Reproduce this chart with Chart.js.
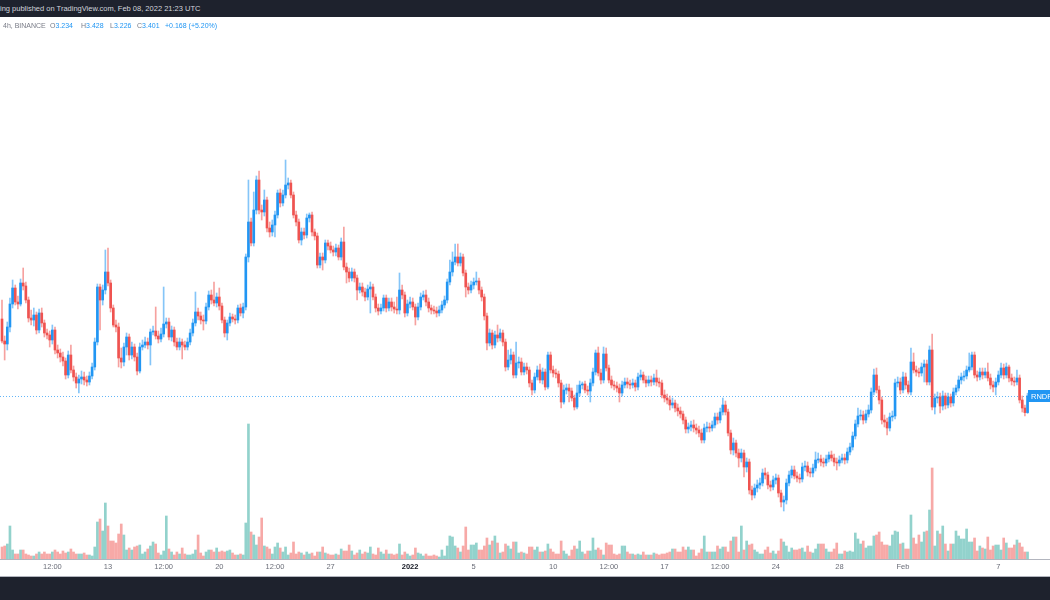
<!DOCTYPE html>
<html>
<head>
<meta charset="utf-8">
<title>RNDR 4h</title>
<script src="https://cdn.jsdelivr.net/npm/chart.js@4.4.0/dist/chart.umd.min.js"></script>
<style>
  html, body { margin: 0; padding: 0; background: #fff; }
  body { width: 1050px; height: 600px; position: relative; overflow: hidden; font-family: "Liberation Sans", Arial, sans-serif; }
  #wrap { position: absolute; left: 0; top: 0; width: 1050px; height: 576px; }
  #top { position: absolute; left: 0; top: 0; width: 1050px; height: 17px; background: #1e222d; color: #d1d4dc; font-size: 7.5px; line-height: 18px; white-space: nowrap; }
  .lg { position: absolute; top: 21px; font-size: 7px; line-height: 10px; color: #787b86; white-space: nowrap; }
  .lg b { font-weight: normal; color: #2196f3; }
  #axisline { position: absolute; left: 0; top: 576px; width: 1050px; height: 1px; background: #b2b5be; }
  #bottom { position: absolute; left: 0; top: 577px; width: 1050px; height: 23px; background: #1e222d; }
</style>
</head>
<body>
<div id="wrap"><canvas id="chart" width="1050" height="576"></canvas></div>
<div id="top">ing published on TradingView.com, Feb 08, 2022 21:23 UTC</div>
<div class="lg" style="left:3px">4h, BINANCE</div>
<div class="lg" style="left:50px">O<b>3.234</b></div>
<div class="lg" style="left:81px">H<b>3.428</b></div>
<div class="lg" style="left:110px">L<b>3.226</b></div>
<div class="lg" style="left:137px">C<b>3.401</b></div>
<div class="lg" style="left:165px"><b>+0.168 (+5.20%)</b></div>
<div id="axisline"></div>
<div id="bottom"></div>
<script>
// RNDR/USDT, 4h candles from Dec 6 08:00 to Feb 8 20:00 (one line per day)
const FIRST_OPEN = 4.17;

const closes = [
  3.95, 3.92, 4.09, 4.32,                 // Dec 6
  4.48, 4.34, 4.32, 4.53, 4.50, 4.36,     // Dec 7
  4.18, 4.16, 4.21, 4.06, 4.23, 4.13,
  4.03, 4.01, 3.96, 4.06, 3.86, 3.83,
  3.79, 3.75, 3.61, 3.81, 3.66, 3.59,
  3.53, 3.57, 3.59, 3.56, 3.54, 3.60,
  3.69, 3.94, 4.49, 4.36, 4.46, 4.64,     // Dec 12
  4.53, 4.28, 4.11, 4.09, 3.78, 3.74,
  3.89, 3.99, 3.81, 3.89, 3.79, 3.65,
  3.89, 3.91, 3.94, 3.91, 4.04, 4.05,
  4.00, 3.97, 4.02, 4.12, 4.14, 3.99,
  4.06, 3.94, 3.89, 3.94, 3.91, 3.89,
  3.94, 4.03, 4.13, 4.24, 4.20, 4.16,
  4.15, 4.29, 4.41, 4.36, 4.33, 4.39,
  4.30, 4.16, 4.03, 4.13, 4.19, 4.17,     // Dec 20
  4.16, 4.28, 4.23, 4.29, 4.79, 5.14,
  4.93, 5.26, 5.56, 5.26, 5.24, 5.36,
  5.08, 5.04, 5.11, 5.21, 5.43, 5.33,
  5.41, 5.51, 5.53, 5.41, 5.21, 5.14,
  4.96, 5.04, 5.01, 5.18, 5.21, 5.04,
  5.00, 4.71, 4.79, 4.76, 4.93, 4.90,
  4.86, 4.84, 4.88, 4.79, 4.94, 4.69,     // Dec 27
  4.64, 4.58, 4.64, 4.58, 4.46, 4.49,
  4.44, 4.39, 4.47, 4.49, 4.39, 4.28,
  4.25, 4.28, 4.38, 4.28, 4.34, 4.29,
  4.27, 4.26, 4.46, 4.41, 4.23, 4.32,
  4.34, 4.29, 4.19, 4.29, 4.39, 4.41,     // Jan 1
  4.34, 4.28, 4.26, 4.25, 4.23, 4.26,
  4.31, 4.36, 4.54, 4.64, 4.74, 4.79,
  4.73, 4.79, 4.63, 4.49, 4.46, 4.51,
  4.54, 4.55, 4.46, 4.39, 4.20, 3.93,     // Jan 5
  4.03, 3.91, 4.01, 3.98, 4.03, 3.94,
  3.69, 3.76, 3.81, 3.61, 3.73, 3.74,
  3.64, 3.69, 3.66, 3.53, 3.46, 3.59,
  3.66, 3.56, 3.64, 3.49, 3.81, 3.66,
  3.63, 3.62, 3.53, 3.34, 3.46, 3.48,     // Jan 10
  3.45, 3.38, 3.29, 3.43, 3.51, 3.52,
  3.46, 3.45, 3.53, 3.64, 3.83, 3.63,
  3.56, 3.82, 3.68, 3.56, 3.51, 3.50,
  3.48, 3.43, 3.51, 3.54, 3.52, 3.51,
  3.53, 3.49, 3.59, 3.61, 3.56, 3.53,
  3.56, 3.54, 3.58, 3.54, 3.53, 3.41,
  3.38, 3.36, 3.31, 3.33, 3.28, 3.25,     // Jan 17
  3.22, 3.16, 3.07, 3.09, 3.11, 3.08,
  3.06, 3.03, 2.96, 3.08, 3.09, 3.08,
  3.11, 3.19, 3.16, 3.24, 3.31, 3.24,
  3.03, 2.86, 2.93, 2.83, 2.78, 2.83,
  2.69, 2.74, 2.46, 2.41, 2.48, 2.51,
  2.53, 2.63, 2.61, 2.51, 2.49, 2.56,
  2.58, 2.43, 2.34, 2.36, 2.53, 2.61,     // Jan 24
  2.66, 2.60, 2.58, 2.57, 2.69, 2.70,
  2.64, 2.63, 2.68, 2.76, 2.77, 2.74,
  2.73, 2.77, 2.81, 2.78, 2.74, 2.73,
  2.76, 2.78, 2.76, 2.84, 2.89, 3.00,
  3.12, 3.20, 3.21, 3.16, 3.22, 3.26,
  3.44, 3.61, 3.46, 3.36, 3.16, 3.14,
  3.08, 3.19, 3.20, 3.53, 3.54, 3.46,
  3.59, 3.51, 3.44, 3.74, 3.66, 3.64,     // Feb 1
  3.63, 3.69, 3.72, 3.54, 3.86, 3.29,
  3.38, 3.39, 3.30, 3.40, 3.31, 3.39,
  3.33, 3.44, 3.48, 3.56, 3.59, 3.60,
  3.66, 3.69, 3.81, 3.61, 3.59, 3.64,
  3.61, 3.64, 3.58, 3.51, 3.49, 3.54,
  3.61, 3.68, 3.61, 3.69, 3.58, 3.55,     // Feb 7
  3.54, 3.58, 3.36, 3.28, 3.234, 3.401
];

const highs = [
  4.36, 4.00, 4.14, 4.38,
  4.56, 4.51, 4.40, 4.57, 4.68, 4.54,
  4.39, 4.26, 4.28, 4.24, 4.27, 4.28,
  4.16, 4.07, 4.05, 4.11, 4.09, 3.91,
  3.87, 3.84, 3.78, 3.85, 3.91, 3.70,
  3.63, 3.61, 3.65, 3.64, 3.60, 3.64,
  3.73, 3.98, 4.52, 4.52, 4.51, 4.86,
  4.88, 4.56, 4.31, 4.16, 4.13, 3.88,
  3.93, 4.03, 4.02, 3.94, 3.92, 3.83,
  3.93, 3.96, 3.99, 3.98, 4.07, 4.10,
  4.29, 4.05, 4.08, 4.49, 4.18, 4.18,
  4.10, 4.09, 3.98, 3.98, 3.97, 3.95,
  3.98, 4.07, 4.17, 4.44, 4.28, 4.24,
  4.21, 4.33, 4.45, 4.46, 4.54, 4.43,
  4.48, 4.33, 4.19, 4.16, 4.23, 4.22,
  4.21, 4.31, 4.32, 4.33, 4.82, 5.56,
  5.18, 5.44, 5.60, 5.65, 5.31, 5.46,
  5.39, 5.14, 5.16, 5.25, 5.46, 5.47,
  5.46, 5.76, 5.58, 5.56, 5.44, 5.25,
  5.17, 5.08, 5.08, 5.22, 5.23, 5.24,
  5.07, 5.03, 4.83, 4.83, 4.96, 4.96,
  4.94, 4.90, 4.92, 4.91, 4.98, 5.09,
  4.73, 4.68, 4.68, 4.67, 4.61, 4.53,
  4.53, 4.48, 4.51, 4.54, 4.52, 4.42,
  4.32, 4.32, 4.41, 4.41, 4.38, 4.38,
  4.34, 4.39, 4.63, 4.51, 4.44, 4.36,
  4.39, 4.38, 4.32, 4.33, 4.43, 4.45,
  4.46, 4.38, 4.31, 4.30, 4.29, 4.30,
  4.35, 4.40, 4.57, 4.76, 4.84, 4.92,
  4.92, 4.83, 4.82, 4.66, 4.53, 4.55,
  4.58, 4.64, 4.58, 4.49, 4.42, 4.23,
  4.07, 4.06, 4.05, 4.11, 4.07, 4.06,
  3.97, 3.86, 3.87, 3.84, 3.94, 3.79,
  3.78, 3.73, 3.73, 3.69, 3.56, 3.63,
  3.70, 3.72, 3.68, 3.67, 3.84, 3.84,
  3.70, 3.67, 3.65, 3.56, 3.51, 3.52,
  3.52, 3.48, 3.41, 3.51, 3.55, 3.54,
  3.55, 3.50, 3.57, 3.68, 3.86, 3.89,
  3.67, 3.89, 3.88, 3.71, 3.60, 3.55,
  3.54, 3.52, 3.55, 3.58, 3.58, 3.56,
  3.57, 3.56, 3.63, 3.66, 3.64, 3.60,
  3.60, 3.60, 3.62, 3.66, 3.58, 3.56,
  3.46, 3.42, 3.40, 3.38, 3.36, 3.32,
  3.29, 3.25, 3.19, 3.13, 3.15, 3.16,
  3.12, 3.10, 3.07, 3.12, 3.14, 3.13,
  3.15, 3.23, 3.23, 3.28, 3.38, 3.35,
  3.27, 3.06, 2.98, 2.96, 2.87, 2.87,
  2.86, 2.78, 2.77, 2.50, 2.52, 2.56,
  2.58, 2.67, 2.68, 2.64, 2.55, 2.60,
  2.62, 2.61, 2.46, 2.40, 2.57, 2.65,
  2.70, 2.70, 2.64, 2.62, 2.73, 2.75,
  2.74, 2.68, 2.72, 2.84, 2.83, 2.81,
  2.78, 2.81, 2.84, 2.85, 2.82, 2.78,
  2.80, 2.82, 2.82, 2.88, 2.93, 3.04,
  3.16, 3.28, 3.26, 3.25, 3.26, 3.31,
  3.48, 3.67, 3.68, 3.50, 3.39, 3.21,
  3.18, 3.23, 3.25, 3.57, 3.59, 3.58,
  3.64, 3.63, 3.55, 3.88, 3.83, 3.70,
  3.68, 3.73, 3.76, 3.76, 3.90, 4.02,
  3.42, 3.44, 3.43, 3.45, 3.43, 3.43,
  3.42, 3.48, 3.51, 3.60, 3.63, 3.65,
  3.70, 3.83, 3.84, 3.84, 3.65, 3.68,
  3.68, 3.68, 3.73, 3.62, 3.55, 3.58,
  3.65, 3.73, 3.72, 3.73, 3.71, 3.62,
  3.59, 3.66, 3.61, 3.40, 3.31, 3.428
];

const lows = [
  3.93, 3.76, 3.86, 4.04,
  4.28, 4.31, 4.27, 4.30, 4.46, 4.33,
  4.14, 4.11, 4.10, 4.02, 4.03, 4.09,
  3.99, 3.97, 3.89, 3.92, 3.82, 3.78,
  3.74, 3.70, 3.57, 3.58, 3.63, 3.55,
  3.48, 3.43, 3.52, 3.51, 3.50, 3.51,
  3.57, 3.66, 3.91, 4.06, 4.31, 4.42,
  4.50, 4.24, 4.09, 4.04, 3.69, 3.68,
  3.70, 3.81, 3.76, 3.77, 3.75, 3.61,
  3.63, 3.86, 3.88, 3.87, 3.71, 4.01,
  3.97, 3.93, 3.94, 3.99, 4.08, 3.96,
  3.95, 3.90, 3.86, 3.86, 3.77, 3.86,
  3.86, 3.91, 4.00, 4.10, 4.16, 4.12,
  4.06, 4.12, 4.26, 4.32, 4.30, 4.29,
  4.26, 4.13, 3.99, 3.96, 4.10, 4.14,
  4.12, 4.13, 4.20, 4.18, 4.26, 4.74,
  4.90, 4.90, 5.22, 5.22, 5.16, 5.20,
  5.04, 4.99, 5.00, 4.99, 5.18, 5.29,
  5.30, 5.38, 5.47, 5.38, 5.18, 5.10,
  4.93, 4.91, 4.97, 4.98, 5.14, 5.00,
  4.96, 4.68, 4.68, 4.66, 4.73, 4.86,
  4.83, 4.80, 4.80, 4.76, 4.76, 4.66,
  4.53, 4.54, 4.55, 4.54, 4.36, 4.43,
  4.40, 4.35, 4.36, 4.23, 4.36, 4.24,
  4.21, 4.22, 4.25, 4.24, 4.25, 4.25,
  4.23, 4.22, 4.22, 4.37, 4.19, 4.20,
  4.28, 4.26, 4.11, 4.16, 4.26, 4.36,
  4.30, 4.24, 4.22, 4.22, 4.19, 4.20,
  4.23, 4.28, 4.33, 4.51, 4.60, 4.71,
  4.70, 4.70, 4.60, 4.39, 4.42, 4.43,
  4.47, 4.51, 4.42, 4.35, 4.16, 3.86,
  3.90, 3.87, 3.88, 3.94, 3.95, 3.90,
  3.65, 3.66, 3.72, 3.58, 3.58, 3.68,
  3.61, 3.61, 3.62, 3.49, 3.41, 3.43,
  3.56, 3.53, 3.52, 3.46, 3.47, 3.63,
  3.59, 3.58, 3.49, 3.28, 3.32, 3.42,
  3.34, 3.35, 3.26, 3.27, 3.40, 3.47,
  3.43, 3.41, 3.34, 3.50, 3.61, 3.60,
  3.52, 3.53, 3.65, 3.53, 3.48, 3.46,
  3.44, 3.34, 3.40, 3.48, 3.48, 3.47,
  3.48, 3.45, 3.46, 3.56, 3.53, 3.49,
  3.50, 3.50, 3.51, 3.50, 3.49, 3.38,
  3.34, 3.32, 3.26, 3.28, 3.24, 3.20,
  3.18, 3.12, 3.03, 3.03, 3.05, 3.04,
  3.02, 2.99, 2.93, 2.93, 3.04, 3.04,
  3.05, 3.08, 3.12, 3.13, 3.21, 3.21,
  3.00, 2.82, 2.81, 2.79, 2.69, 2.74,
  2.59, 2.64, 2.42, 2.36, 2.38, 2.44,
  2.47, 2.50, 2.57, 2.47, 2.45, 2.46,
  2.52, 2.39, 2.29, 2.25, 2.32, 2.50,
  2.58, 2.57, 2.54, 2.53, 2.54, 2.65,
  2.60, 2.59, 2.59, 2.65, 2.73, 2.70,
  2.69, 2.70, 2.74, 2.75, 2.70, 2.66,
  2.70, 2.73, 2.72, 2.73, 2.81, 2.86,
  2.97, 3.09, 3.16, 3.12, 3.13, 3.19,
  3.23, 3.41, 3.43, 3.32, 3.12, 3.09,
  3.01, 3.05, 3.15, 3.17, 3.49, 3.42,
  3.43, 3.47, 3.42, 3.41, 3.63, 3.60,
  3.59, 3.60, 3.54, 3.51, 3.51, 3.26,
  3.22, 3.33, 3.23, 3.26, 3.27, 3.28,
  3.29, 3.30, 3.41, 3.45, 3.52, 3.55,
  3.57, 3.64, 3.66, 3.58, 3.55, 3.56,
  3.57, 3.58, 3.55, 3.47, 3.44, 3.41,
  3.51, 3.58, 3.57, 3.58, 3.54, 3.51,
  3.50, 3.51, 3.33, 3.24, 3.20, 3.226
];

// volume, thousand RNDR
const volumes = [
  240, 260, 300, 660,
  180, 100, 100, 180, 180, 100,
  80, 60, 60, 100, 140, 100,
  140, 100, 100, 140, 180, 140,
  100, 160, 120, 140, 200, 140,
  100, 100, 100, 120, 80, 80,
  60, 240, 740, 800, 560, 1120,
  660, 360, 360, 320, 500, 700,
  480, 180, 220, 180, 240, 260,
  280, 100, 140, 200, 260, 340,
  300, 120, 80, 160, 860, 200,
  140, 80, 140, 100, 220, 100,
  80, 80, 100, 180, 480, 120,
  60, 140, 180, 180, 140, 220,
  140, 160, 140, 160, 180, 120,
  80, 80, 100, 80, 720, 2700,
  540, 480, 280, 440, 820, 260,
  240, 200, 100, 240, 320, 220,
  140, 240, 80, 120, 340, 100,
  140, 120, 80, 140, 100, 120,
  60, 140, 140, 240, 120, 100,
  80, 80, 100, 80, 200, 160,
  160, 280, 160, 80, 120, 180,
  100, 140, 120, 240, 100, 80,
  220, 140, 100, 180, 100, 100,
  80, 100, 300, 80, 140, 100,
  60, 80, 220, 120, 100, 60,
  100, 60, 60, 80, 60, 40,
  180, 60, 260, 460, 440, 260,
  220, 140, 260, 640, 180, 280,
  280, 320, 180, 180, 260, 420,
  280, 360, 460, 320, 120, 140,
  300, 260, 200, 340, 340, 120,
  140, 120, 100, 240, 240, 180,
  240, 140, 140, 160, 300, 200,
  140, 100, 100, 360, 160, 100,
  60, 180, 260, 200, 360, 140,
  100, 160, 160, 420, 180, 220,
  180, 80, 320, 280, 280, 100,
  80, 100, 260, 260, 140, 100,
  100, 80, 100, 80, 140, 80,
  80, 80, 120, 100, 80, 100,
  100, 120, 140, 200, 200, 140,
  140, 240, 180, 240, 180, 180,
  60, 120, 200, 460, 140, 140,
  140, 140, 260, 200, 240, 240,
  140, 360, 440, 440, 140, 660,
  180, 360, 280, 300, 180, 140,
  100, 100, 180, 240, 120, 160,
  100, 160, 400, 340, 260, 140,
  220, 180, 180, 200, 220, 140,
  260, 140, 120, 200, 300, 300,
  300, 200, 140, 140, 200, 320,
  100, 100, 160, 140, 160, 140,
  520, 400, 300, 360, 220, 260,
  260, 460, 480, 540, 340, 280,
  280, 260, 480, 560, 540, 300,
  320, 200, 200, 880, 420, 300,
  480, 340, 540, 560, 980, 1820,
  260, 560, 500, 660, 300, 160,
  300, 300, 560, 460, 400, 400,
  600, 340, 340, 420, 160, 260,
  220, 200, 440, 180, 260, 280,
  280, 180, 420, 320, 220, 220,
  280, 380, 320, 240, 140, 140
];

// time axis in days from Dec 13 00:00
const tickDays = [-3.5, 0, 3.5, 7, 10.5, 14, 19, 23, 28, 31.5, 35, 38.5, 42, 46, 50, 56];
const tickLabels = ['12:00', '13', '12:00', '20', '12:00', '27', '2022', '5', '10', '12:00', '17', '12:00', '24', '28', 'Feb', '7'];

const SYMBOL = 'RNDR';
const START_DAY = -160 / 24;   // Dec 6 08:00
const STEP_DAY = 4 / 24;       // 4h candles
const X_MIN = -108 / 15.9;
const X_MAX = 942 / 15.9;
const PRICE_MIN = 1.77;
const PRICE_MAX = 7.36;
const VOL_MAX = 11180;

const UP = '#2196f3', DOWN = '#ef5350';
const UP_WICK = 'rgba(33,150,243,0.55)', DOWN_WICK = 'rgba(239,83,80,0.55)';
const UP_VOL = 'rgba(38,166,154,0.5)', DOWN_VOL = 'rgba(239,83,80,0.5)';

const opens = closes.map((c, i) => (i === 0 ? FIRST_OPEN : closes[i - 1]));
const times = closes.map((c, i) => START_DAY + i * STEP_DAY);
const isUp = closes.map((c, i) => c >= opens[i]);
const lastClose = closes[closes.length - 1];

const priceLine = {
  id: 'priceLine',
  beforeDatasetsDraw(chart) {
    const { ctx, chartArea } = chart;
    const y = Math.round(chart.scales.y.getPixelForValue(lastClose)) + 0.5;
    ctx.save();
    ctx.strokeStyle = 'rgba(33,150,243,0.7)';
    ctx.lineWidth = 1;
    ctx.setLineDash([1, 2]);
    ctx.beginPath();
    ctx.moveTo(chartArea.left, y);
    ctx.lineTo(chartArea.right, y);
    ctx.stroke();
    ctx.restore();
  },
  afterDatasetsDraw(chart) {
    const { ctx, chartArea } = chart;
    const y = Math.round(chart.scales.y.getPixelForValue(lastClose));
    ctx.save();
    ctx.fillStyle = UP;
    ctx.fillRect(1028, y - 6, chartArea.right - 1028 + 2, 12);
    ctx.fillStyle = '#ffffff';
    ctx.font = '7.5px "Liberation Sans", Arial, sans-serif';
    ctx.textBaseline = 'middle';
    ctx.fillText(SYMBOL, 1031, y + 0.5);
    ctx.restore();
  }
};

new Chart(document.getElementById('chart'), {
  type: 'bar',
  data: {
    datasets: [
      {
        label: 'body',
        data: closes.map((c, i) => ({ x: times[i], y: [opens[i], c] })),
        backgroundColor: isUp.map(u => (u ? UP : DOWN)),
        barThickness: 2,
        minBarLength: 1,
        grouped: false,
        yAxisID: 'y',
        order: 1
      },
      {
        label: 'wick',
        data: closes.map((c, i) => ({ x: times[i], y: [lows[i], highs[i]] })),
        backgroundColor: isUp.map(u => (u ? UP_WICK : DOWN_WICK)),
        barThickness: 1,
        grouped: false,
        yAxisID: 'y',
        order: 2
      },
      {
        label: 'volume',
        data: volumes.map((v, i) => ({ x: times[i], y: v })),
        backgroundColor: isUp.map(u => (u ? UP_VOL : DOWN_VOL)),
        barThickness: 2,
        grouped: false,
        yAxisID: 'yv',
        order: 3
      }
    ]
  },
  options: {
    responsive: false,
    devicePixelRatio: 1,
    animation: false,
    layout: { padding: 0 },
    plugins: { legend: { display: false }, tooltip: { enabled: false } },
    scales: {
      x: {
        type: 'linear',
        min: X_MIN,
        max: X_MAX,
        offset: false,
        grid: { display: false, drawTicks: false, offset: false },
        border: { display: true, color: '#b2b5be' },
        afterBuildTicks: scale => { scale.ticks = tickDays.map(v => ({ value: v })); },
        afterFit: scale => { scale.height = 17; },
        ticks: {
          autoSkip: false,
          maxRotation: 0,
          padding: 3,
          callback: (value, index) => tickLabels[index],
          color: ctx => (ctx.tick && ctx.tick.label === '2022' ? '#131722' : '#6a6d78'),
          font: ctx => ({
            family: '"Liberation Sans", Arial, sans-serif',
            size: 7.5,
            weight: ctx.tick && ctx.tick.label === '2022' ? 'bold' : 'normal'
          })
        }
      },
      y: { type: 'linear', display: false, min: PRICE_MIN, max: PRICE_MAX },
      yv: { type: 'linear', display: false, min: 0, max: VOL_MAX }
    }
  },
  plugins: [priceLine]
});
</script>
</body>
</html>
